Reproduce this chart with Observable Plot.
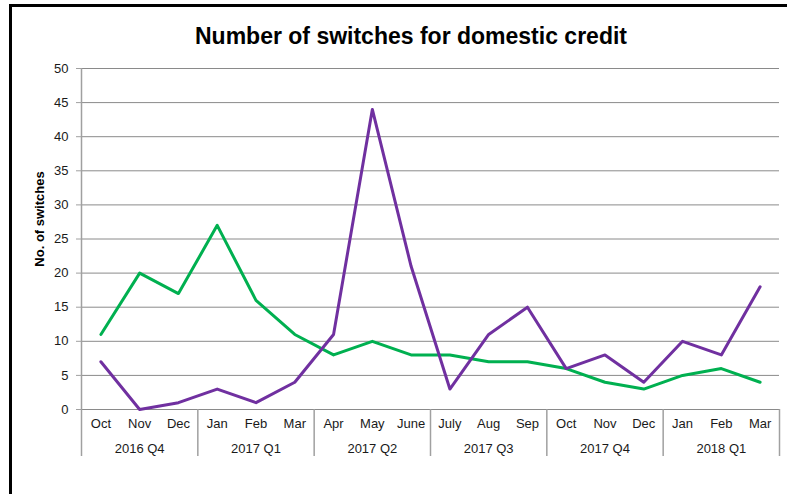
<!DOCTYPE html>
<html>
<head>
<meta charset="utf-8">
<script src="https://cdn.jsdelivr.net/npm/d3@7"></script>
<script src="https://cdn.jsdelivr.net/npm/@observablehq/plot@0.6"></script>
<style>
  html, body { margin: 0; padding: 0; background: #fff; }
  #wrap { position: relative; width: 787px; height: 494px; overflow: hidden; font-family: "Liberation Sans", Arial, sans-serif; }
  #frame { position: absolute; left: 9px; top: 4px; width: 800px; height: 520px; border-left: 3px solid #000; border-top: 3px solid #000; box-sizing: border-box; }
  #title { position: relative; height: 50px; width: 822px; text-align: center; font-weight: bold; font-size: 23px; line-height: 23px; padding-top: 25px; box-sizing: border-box; color: #000; white-space: nowrap; }
  #chart svg { display: block; }
</style>
</head>
<body>
<div id="wrap">
  <div id="frame"></div>
  <div id="title">Number of switches for domestic credit</div>
  <div id="chart"></div>
</div>
<script>
const months = ["Oct","Nov","Dec","Jan","Feb","Mar","Apr","May","June","July","Aug","Sep","Oct","Nov","Dec","Jan","Feb","Mar"];
const quarters = ["2016 Q4","2017 Q1","2017 Q2","2017 Q3","2017 Q4","2018 Q1"];
const greenSeries = [11,20,17,27,16,11,8,10,8,8,7,7,6,4,3,5,6,4];
const purpleSeries = [7,0,1,3,1,4,11,44,21,3,11,15,6,8,4,10,8,18];
const yTicks = [0,5,10,15,20,25,30,35,40,45,50];
const yLabel = "No. of switches";

const monthRows = months.map((m, i) => ({label: m, i: i + 0.5}));
const quarterRows = quarters.map((q, k) => ({label: q, i: k * 3 + 1.5}));
const quarterBounds = d3.range(0, months.length + 1, 3);
const green = greenSeries.map((v, i) => ({i: i + 0.5, v}));
const purple = purpleSeries.map((v, i) => ({i: i + 0.5, v}));

const chart = Plot.plot({
  width: 787,
  height: 444,
  marginLeft: 81,
  marginRight: 8,
  marginTop: 18,
  marginBottom: 85,
  style: {fontFamily: "'Liberation Sans', Arial, sans-serif", fontSize: "13px", color: "#1a1a1a", background: "transparent"},
  x: {domain: [0, months.length], axis: null},
  y: {domain: [0, 50], axis: null},
  marks: [
    Plot.ruleY(yTicks, {y: d => d, stroke: "#8a8a8a", strokeWidth: 1, strokeOpacity: 1}),
    Plot.ruleX([0], {stroke: "#a0a0a0", strokeWidth: 1.5}),
    Plot.axisY({ticks: yTicks, tickSize: 5, tickPadding: 8, stroke: "#a0a0a0", label: null, fontSize: 13, fill: "#1a1a1a"}),
    Plot.axisX({ticks: quarterBounds, tickSize: 47, tickFormat: () => "", stroke: "#a0a0a0", strokeWidth: 1.5, label: null}),
    Plot.text(monthRows, {x: "i", y: () => 0, text: "label", dy: 14, fontSize: 13, fill: "#1a1a1a"}),
    Plot.text(quarterRows, {x: "i", y: () => 0, text: "label", dy: 39, fontSize: 13, fill: "#1a1a1a"}),
    Plot.text([yLabel], {frameAnchor: "left", textAnchor: "middle", text: d => d, rotate: -90, dx: -42, dy: -20, fontWeight: "bold", fontSize: 13, fill: "#000"}),
    Plot.line(green, {x: "i", y: "v", stroke: "#00B050", strokeWidth: 3}),
    Plot.line(purple, {x: "i", y: "v", stroke: "#7030A0", strokeWidth: 3})
  ]
});
document.getElementById("chart").appendChild(chart);
</script>
</body>
</html>
